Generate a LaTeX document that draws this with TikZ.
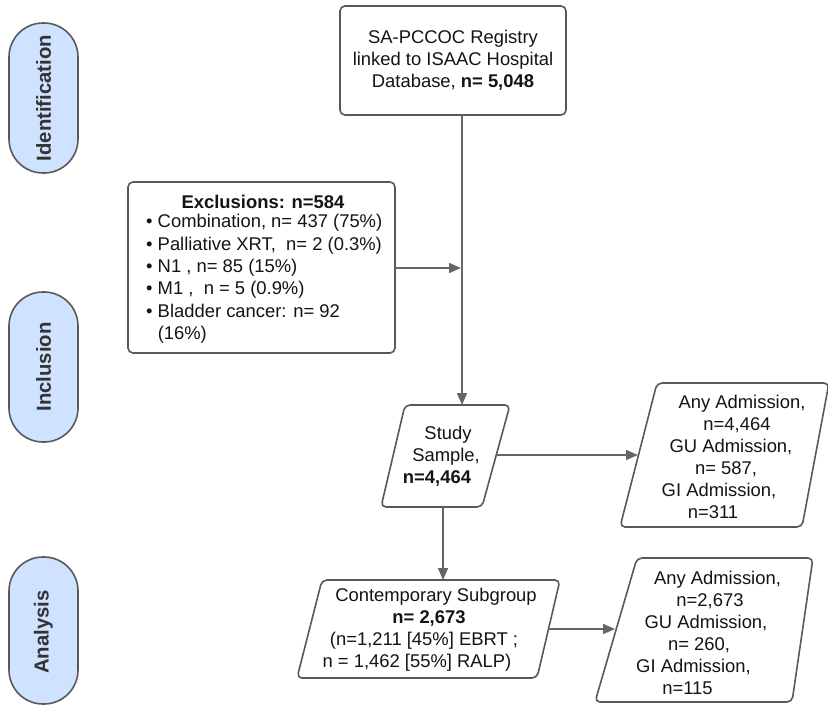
\documentclass[tikz,border=0pt]{standalone}
\usepackage{fontspec}
\setmainfont{Liberation Sans}
\usetikzlibrary{arrows.meta}
\definecolor{linegray}{HTML}{666666}
\definecolor{boxgray}{HTML}{595959}
\definecolor{pillblue}{HTML}{CFE2FF}
\definecolor{darktext}{HTML}{333333}
\definecolor{bodytext}{HTML}{141414}
\newcommand{\sline}[2]{\makebox[0pt]{\hspace*{#1}#2}}
\begin{document}
\begin{tikzpicture}[x=1pt,y=-1pt,
  txt/.style={font=\fontsize{18.4pt}{22pt}\selectfont, text=bodytext, inner sep=0pt, align=center},
  lst/.style={font=\fontsize{18.4pt}{22.4pt}\selectfont, text=bodytext, inner sep=0pt, align=left, anchor=west},
  shp/.style={draw=boxgray, line width=1.6pt, rounded corners=5pt, fill=white},
  pill/.style={draw=boxgray, line width=1.6pt, fill=pillblue, rounded corners=34pt},
  side/.style={font=\fontsize{20.3pt}{24pt}\selectfont\bfseries, text=darktext, rotate=90, inner sep=0pt},
  conn/.style={draw=linegray, line width=1.5pt, -{Triangle[length=12pt,width=10pt]}},
  plain/.style={draw=linegray, line width=1.5pt}]
\useasboundingbox (0,0) rectangle (828,707);

% side labels
\draw[pill] (9,23) rectangle (78,173);
\node[side] (lid) at (43.5,98) {Identification};
\draw[pill] (9,292) rectangle (78,442);
\node[side] (lin) at (43.5,367) {Inclusion};
\draw[pill] (9,557) rectangle (78,704);
\node[side] (lan) at (43.5,632) {Analysis};

% top box
\draw[shp] (340,6) rectangle (566,115);
\node[txt] (reg) at (453,60.5) {SA-PCCOC Registry\\linked to ISAAC Hospital\\Database, \textbf{n= 5,048}};

% exclusions
\draw[shp] (128,182) rectangle (395,353);
\node[txt,font=\fontsize{18.4pt}{22pt}\selectfont\bfseries] (exct) at (263,202) {Exclusions: n=584};
\node[lst] (excl) at (146,279) {• Combination, n= 437 (75\%)\\• Palliative XRT,\ \ n= 2 (0.3\%)\\• N1 , n= 85 (15\%)\\• M1 ,\ \ n = 5 (0.9\%)\\• Bladder cancer: n= 92\\\phantom{• }(16\%)};

% study sample
\draw[shp] (405,405) -- (510,405) -- (482,507) -- (381,507) -- cycle;
\node[txt] (ss) at (443,456) {\sline{10pt}{Study}\\\sline{6pt}{Sample,}\\\sline{-12pt}{\textbf{n=4,464}}};

% any admission 1
\draw[shp] (657,383) -- (829,383) -- (802,527) -- (620,527) -- cycle;
\node[txt] (aa1) at (730,457) {\sline{24pt}{Any Admission,}\\\sline{14pt}{n=4,464}\\\sline{2pt}{GU Admission,}\\\sline{-8pt}{n= 587,}\\\sline{-22pt}{GI Admission,}\\\sline{-34pt}{n=311}};

% contemporary
\draw[shp] (322,580) -- (560,580) -- (537,678) -- (297,678) -- cycle;
\node[txt] (cs) at (428,629.5) {\sline{16pt}{Contemporary Subgroup}\\\sline{2pt}{\textbf{n= 2,673}}\\\sline{-8pt}{(n=1,211 [45\%] EBRT ;}\\\sline{-22pt}{n = 1,462 [55\%] RALP)}};

% any admission 2
\draw[shp] (637,558) -- (813,558) -- (792,702) -- (595,702) -- cycle;
\node[txt] (aa2) at (702,633) {\sline{31pt}{Any Admission,}\\\sline{16pt}{n=2,673}\\\sline{8pt}{GU Admission,}\\\sline{-6pt}{n= 260,}\\\sline{-17pt}{GI Admission,}\\\sline{-29pt}{n=115}};

% connection points
\coordinate (regS) at (462,115);
\coordinate (ssN) at (462,405);
\coordinate (join) at (462,268);
\coordinate (exclE) at (395,268);
\coordinate (ssE) at (496,455);
\coordinate (aa1W) at (638,455);
\coordinate (ssS) at (443,507);
\coordinate (csN) at (443,580);
\coordinate (csE) at (548,629);
\coordinate (aa2W) at (615,629);

\draw[conn] (regS) -- (ssN);
\draw[conn, shorten >=1pt] (exclE) -- (join);
\draw[conn] (ssE) -- (aa1W);
\draw[conn] (ssS) -- (csN);
\draw[conn] (csE) -- (aa2W);
\end{tikzpicture}
\end{document}
